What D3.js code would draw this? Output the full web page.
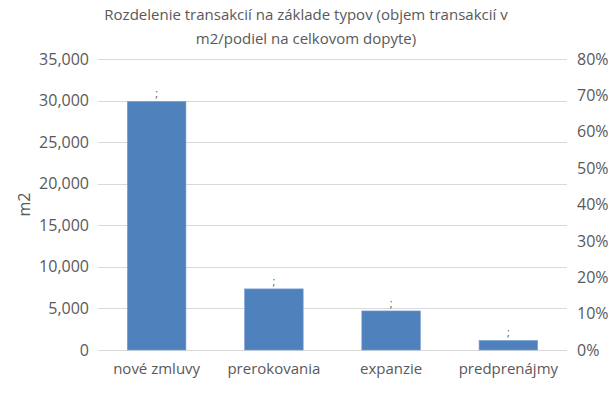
<!DOCTYPE html>
<html>
<head>
<meta charset="utf-8">
<script src="https://cdn.jsdelivr.net/npm/d3@7"></script>
<style>
  body { margin: 0; background: #fff; }
  text { font-family: "Open Sans", "Noto Sans", sans-serif; fill: #595959; }
</style>
</head>
<body>
<div id="chart"></div>
<script>
// chart data
const categories = ["nové zmluvy", "prerokovania", "expanzie", "predprenájmy"];
const volumes = [29900, 7350, 4700, 1150];
const labels = [";", ";", ";", ";"];
const leftTicks = [0, 5000, 10000, 15000, 20000, 25000, 30000, 35000];
const rightTicks = [0, 0.1, 0.2, 0.3, 0.4, 0.5, 0.6, 0.7, 0.8];
const titleLines = ["Rozdelenie transakcií na základe typov (objem transakcií v", "m2/podiel na celkovom dopyte)"];

const width = 612, height = 396;
const margin = { top: 59, right: 45, bottom: 46, left: 98 };

const svg = d3.select("#chart").append("svg")
  .attr("width", width)
  .attr("height", height);

const x = d3.scaleBand()
  .domain(categories)
  .range([margin.left, width - margin.right])
  .paddingInner(0.5)
  .paddingOuter(0.25);

const y = d3.scaleLinear()
  .domain([0, 35000])
  .range([height - margin.bottom, margin.top]);

const y2 = d3.scaleLinear()
  .domain([0, 0.8])
  .range([height - margin.bottom, margin.top]);

// gridlines
svg.append("g")
  .selectAll("line")
  .data(leftTicks)
  .enter().append("line")
  .attr("x1", margin.left)
  .attr("x2", width - margin.right)
  .attr("y1", d => Math.round(y(d)) + 0.5)
  .attr("y2", d => Math.round(y(d)) + 0.5)
  .attr("stroke", "#d9d9d9")
  .attr("stroke-width", 1);

// left axis
const leftAxis = svg.append("g")
  .attr("transform", `translate(${margin.left - 6},0)`)
  .call(d3.axisLeft(y).tickValues(leftTicks).tickFormat(d3.format(",")).tickSize(0));
leftAxis.select(".domain").remove();
leftAxis.selectAll("text").attr("font-size", 16).style("fill", "#595959");

// right axis
const rightAxis = svg.append("g")
  .attr("transform", `translate(${width - margin.right + 7},0)`)
  .call(d3.axisRight(y2).tickValues(rightTicks).tickFormat(d3.format(".0%")).tickSize(0));
rightAxis.select(".domain").remove();
rightAxis.selectAll("text").attr("font-size", 16).style("fill", "#595959");

// bars
svg.append("g")
  .selectAll("rect")
  .data(volumes)
  .enter().append("rect")
  .attr("x", (d, i) => x(categories[i]))
  .attr("y", d => y(d))
  .attr("width", x.bandwidth())
  .attr("height", d => y(0) - y(d))
  .attr("fill", "#4f81bd")
  .attr("stroke", "#7aa0d0")
  .attr("stroke-width", 0.6);

// data labels
svg.append("g")
  .selectAll("text")
  .data(volumes)
  .enter().append("text")
  .attr("x", (d, i) => x(categories[i]) + x.bandwidth() / 2)
  .attr("y", d => y(d) - 4)
  .attr("text-anchor", "middle")
  .attr("font-size", 11)
  .text((d, i) => labels[i]);

// category labels
const bottomAxis = svg.append("g")
  .attr("transform", `translate(0,${height - margin.bottom + 10})`)
  .call(d3.axisBottom(x).tickSize(0));
bottomAxis.select(".domain").remove();
bottomAxis.selectAll("text").attr("font-size", 15).style("fill", "#595959");

// y axis title
svg.append("text")
  .attr("transform", `translate(30,${(margin.top + height - margin.bottom) / 2}) rotate(-90)`)
  .attr("text-anchor", "middle")
  .attr("font-size", 16)
  .text("m2");

// title
svg.append("g")
  .selectAll("text")
  .data(titleLines)
  .enter().append("text")
  .attr("x", width / 2)
  .attr("y", (d, i) => 20 + i * 24)
  .attr("text-anchor", "middle")
  .attr("font-size", 15)
  .text(d => d);
</script>
</body>
</html>
